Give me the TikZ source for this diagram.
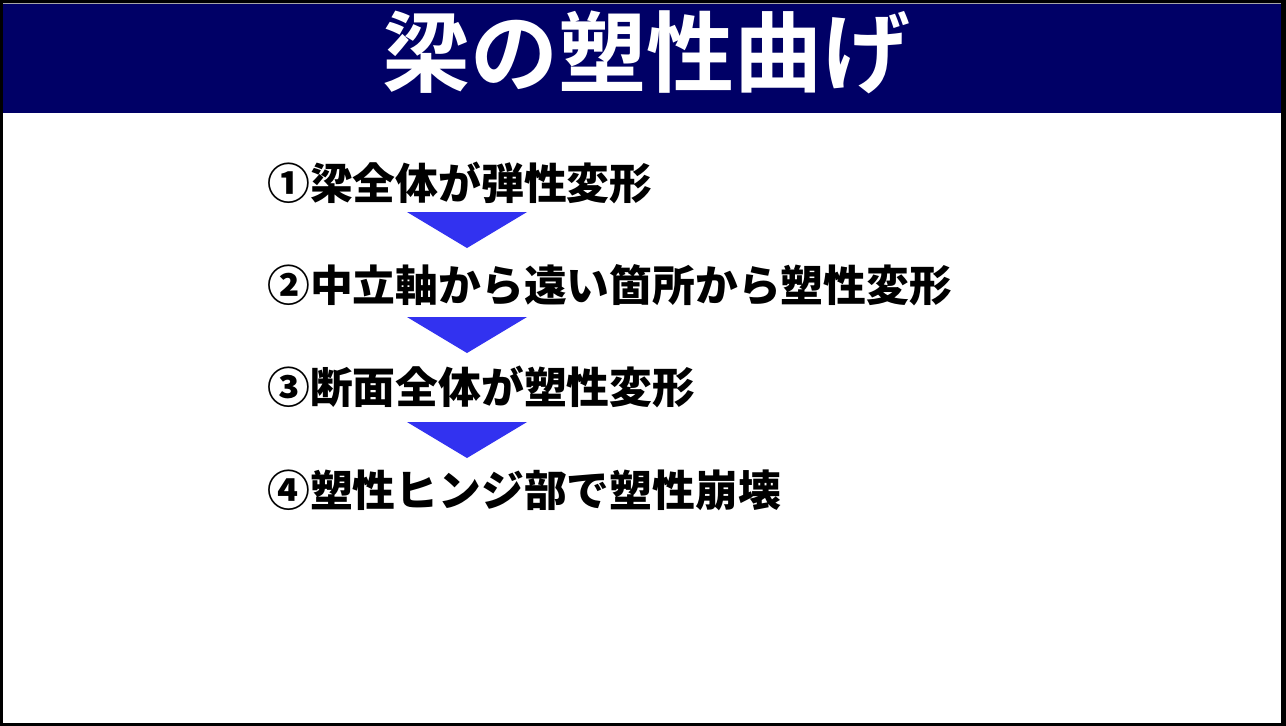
\documentclass[tikz,border=0pt]{standalone}
\usepackage{fontspec}
\newfontfamily\jpfont{Noto Sans CJK JP}[BoldFont={Noto Sans CJK JP Black}]
\newfontfamily\jptitle{Noto Sans CJK JP Bold}
\definecolor{barnavy}{RGB}{0, 0, 102}
\definecolor{arrowblue}{RGB}{50, 50, 240}
\usetikzlibrary{positioning}

\begin{document}
\begin{tikzpicture}[x=1pt, y=-1pt,
    titletext/.style={font=\jptitle\fontsize{88}{92}\selectfont, text=white, inner sep=0pt},
    steptext/.style={font=\jpfont\bfseries\fontsize{42.8}{46}\selectfont, text=black, inner sep=0pt, anchor=west}]
  \useasboundingbox (0, 0) rectangle (1286, 726);

  % Frame and title bar
  \fill[black] (0, 0) rectangle (1286, 726);
  \fill[white] (3, 3) rectangle (1281, 723);
  \fill[barnavy] (3, 3) rectangle (1281, 113);
  \draw[gray!70, line width=1pt] (3, 3.5) -- (1281, 3.5);
  \node[titletext] (title) at (646, 52) {梁の塑性曲げ};

  % Steps
  \node[steptext] (step1) at (267, 183) {①梁全体が弾性変形};
  \node[steptext] (step2) at (267, 285) {②中立軸から遠い箇所から塑性変形};
  \node[steptext] (step3) at (267, 387) {③断面全体が塑性変形};
  \node[steptext] (step4) at (267, 490) {④塑性ヒンジ部で塑性崩壊};

  % Down triangles
  \foreach \y in {212, 317, 422}
    \fill[arrowblue] (407, \y) -- (527, \y) -- (467, \y+36) -- cycle;
\end{tikzpicture}
\end{document}
